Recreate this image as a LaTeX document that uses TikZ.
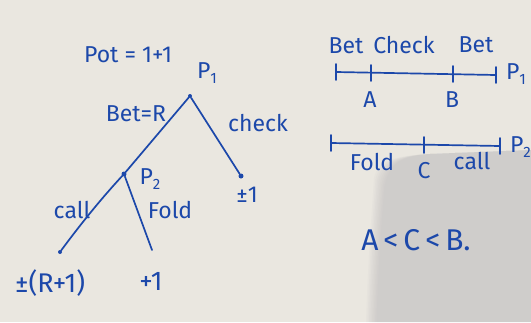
\documentclass[tikz,border=0pt]{standalone}
\usepackage{fontspec}
\setmainfont{Fira Sans}
\usetikzlibrary{calc}
\definecolor{paper}{RGB}{234,231,224}
\definecolor{shadowgray}{RGB}{180,180,182}
\definecolor{ink}{RGB}{28,72,170}
\newcommand{\pl}[1]{P\raisebox{-0.35ex}{\fontsize{15}{15}\selectfont #1}}
\begin{document}
\begin{tikzpicture}[x=1pt,y=-1pt,
  inkline/.style={draw=ink,line width=1.7pt,line cap=round,line join=round},
  dot/.style={circle,fill=ink,inner sep=0pt,minimum size=5pt},
  hand/.style={text=ink,inner sep=1pt,font=\fontsize{23}{25}\selectfont},
  payoff/.style={text=ink,inner sep=1pt,font=\fontsize{27}{29}\selectfont},
  bighand/.style={text=ink,inner sep=1pt,font=\fontsize{30}{32}\selectfont}]
% sheet of paper
\fill[paper] (0,0) rectangle (531,322);
\useasboundingbox (0,0) rectangle (531,322);
% soft shadow in the lower right
\foreach \k in {0,...,7}{
  \fill[shadowgray,opacity=0.07]
    ($(374,178)+(\k*1.5,\k*1.2)$) .. controls ($(378,160)+(\k*1.5,\k*1.2)$) and (395,156) .. (430,154)
    -- (531,150) -- (531,322) -- ($(366,322)+(\k*1.5,0)$)
    .. controls ($(368,260)+(\k*1.5,0)$) and ($(372,210)+(\k*1.5,0)$) .. ($(374,178)+(\k*1.5,\k*1.2)$) -- cycle;
}

% ---- game tree ----
\node[hand] (pot) at (128,55) {Pot = 1+1};
\node[dot,minimum size=4pt] (p1) at (190,96) {};
\node[hand] (p1lab) at (207,73) {\pl{1}};
\node[dot] (p2) at (124,174) {};
\node[hand] (p2lab) at (150,179) {\pl{2}};
\node[dot] (chk) at (241,176) {};
\node[dot,minimum size=4pt] (callend) at (60,252) {};
\coordinate (foldend) at (152,250);

\draw[inkline] (p1) -- (p2);
\draw[inkline] (p1) -- (chk);
\draw[inkline] (p2) .. controls (100,200) and (80,225) .. (callend);
\draw[inkline] (p2) -- (foldend);

\node[hand] (betr) at (136,114) {Bet=R};
\node[hand] (check) at (258,123) {check};
\node[hand] (chkpay) at (247,195) {±1};
\node[hand] (call) at (72,210) {call};
\node[hand] (fold) at (170,210) {Fold};
\node[payoff] (callpay) at (50,283) {±(R+1)};
\node[payoff] (foldpay) at (151,281) {+1};

% ---- strategy line of P1 ----
\coordinate (la) at (336,72);
\coordinate (lA) at (371,73);
\coordinate (lB) at (453,74);
\coordinate (lb) at (496,75);
\draw[inkline] (la) -- (lb);
\foreach \c in {la,lA,lB,lb}
  \draw[inkline] ($(\c)+(0,-8)$) -- ($(\c)+(0,8)$);
\node[hand] (bet1) at (346,46) {Bet};
\node[hand] (chk1) at (404,45) {Check};
\node[hand] (bet2) at (476,45) {Bet};
\node[hand] (P1r) at (516,74) {\pl{1}};
\node[hand] (Alab) at (370,100) {A};
\node[hand] (Blab) at (452,100) {B};

% ---- strategy line of P2 ----
\coordinate (ma) at (331,143);
\coordinate (mC) at (424,145);
\coordinate (mb) at (500,146);
\draw[inkline] (ma) -- (mb);
\foreach \c in {ma,mC,mb}
  \draw[inkline] ($(\c)+(0,-8)$) -- ($(\c)+(0,8)$);
\node[hand,anchor=east,inner sep=0pt] (P2r) at (531,147) {\pl{2}};
\node[hand] (fold2) at (372,162) {Fold};
\node[hand] (Clab) at (424,171) {C};
\node[hand] (call2) at (472,161) {call};

\node[bighand] (order) at (416,240) {A\,<\,C\,<\,B.};
\end{tikzpicture}
\end{document}
